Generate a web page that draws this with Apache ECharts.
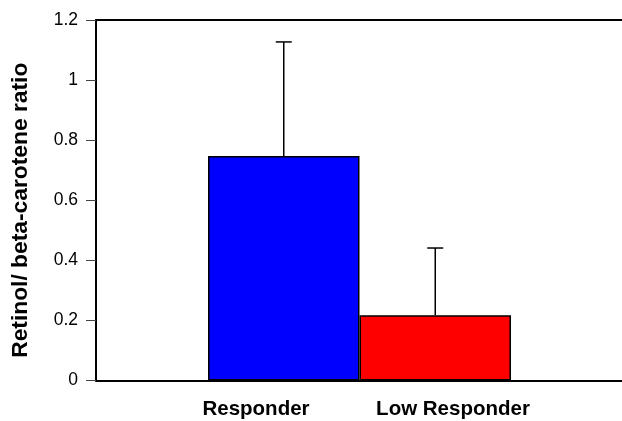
<!DOCTYPE html>
<html>
<head>
<meta charset="utf-8">
<script src="https://cdn.jsdelivr.net/npm/echarts@6/dist/echarts.min.js"></script>
<style>
html,body{margin:0;padding:0;background:#fff;}
#chart{width:622px;height:421px;}
</style>
</head>
<body>
<div id="chart"></div>
<script>
const categories = ['Responder', 'Low Responder'];
const means = [0.747, 0.217];
const sds = [0.380, 0.224];
const barColors = ['#0000ff', '#ff0000'];
const yMin = 0, yMax = 1.2, yInterval = 0.2;
const yTitle = 'Retinol/ beta-carotene ratio';

const FONT = 'Liberation Sans';
const chart = echarts.init(document.getElementById('chart'), null, {renderer: 'canvas'});

const hiddenY = (gi) => ({type: 'value', gridIndex: gi, min: yMin, max: yMax, interval: yInterval, show: false});

chart.setOption({
  animation: false,
  backgroundColor: '#fff',
  grid: [
    {left: 96, right: 0, top: 20, bottom: 40.5},
    {left: 208, right: 111, top: 20, bottom: 40.5},
    {left: 157.5, right: 70.5, top: 20, bottom: 40.5}
  ],
  xAxis: [
    {type: 'category', gridIndex: 0, data: categories, position: 'bottom',
      axisLine: {lineStyle: {color: '#000', width: 2}}, axisTick: {show: false}, axisLabel: {show: false}, splitLine: {show: false}},
    {type: 'category', gridIndex: 0, data: categories, position: 'top',
      axisLine: {lineStyle: {color: '#000', width: 2}}, axisTick: {show: false}, axisLabel: {show: false}, splitLine: {show: false}},
    {type: 'category', gridIndex: 1, data: categories, show: false},
    {type: 'category', gridIndex: 2, data: categories,
      axisLine: {show: false}, axisTick: {show: false}, splitLine: {show: false},
      axisLabel: {show: true, interval: 0, hideOverlap: false, margin: 18, color: '#000', fontFamily: FONT, fontWeight: 'bold', fontSize: 20.5}}
  ],
  yAxis: [
    {type: 'value', gridIndex: 0, min: yMin, max: yMax, interval: yInterval,
      axisLine: {show: true, lineStyle: {color: '#000', width: 2}},
      axisTick: {show: true, length: 10, lineStyle: {color: '#444', width: 1}},
      splitLine: {show: false},
      axisLabel: {margin: 18, color: '#000', fontFamily: FONT, fontSize: 17.5},
      name: yTitle, nameLocation: 'middle', nameRotate: 90, nameGap: 64,
      nameTextStyle: {color: '#000', fontFamily: FONT, fontWeight: 'bold', fontSize: 22.8, padding: [0, 20, 0, 0]}},
    hiddenY(1),
    hiddenY(2)
  ],
  series: [
    {type: 'bar', xAxisIndex: 2, yAxisIndex: 1, barWidth: '100%', z: 2,
      data: means.map((v, i) => ({value: v, itemStyle: {color: barColors[i], borderColor: '#000', borderWidth: 1.5}}))},
    {type: 'custom', xAxisIndex: 2, yAxisIndex: 1, z: 3,
      encode: {x: 0, y: 1},
      data: means.map((v, i) => [i, v, sds[i]]),
      renderItem: function (params, api) {
        const x = api.value(0), m = api.value(1), s = api.value(2);
        const base = api.coord([x, m]);
        const top = api.coord([x, m + s]);
        const hw = 8;
        const st = {stroke: '#000', lineWidth: 1.5};
        return {type: 'group', children: [
          {type: 'line', shape: {x1: base[0], y1: base[1], x2: top[0], y2: top[1]}, style: st},
          {type: 'line', shape: {x1: top[0] - hw, y1: top[1], x2: top[0] + hw, y2: top[1]}, style: st}
        ]};
      }}
  ]
});
</script>
</body>
</html>
